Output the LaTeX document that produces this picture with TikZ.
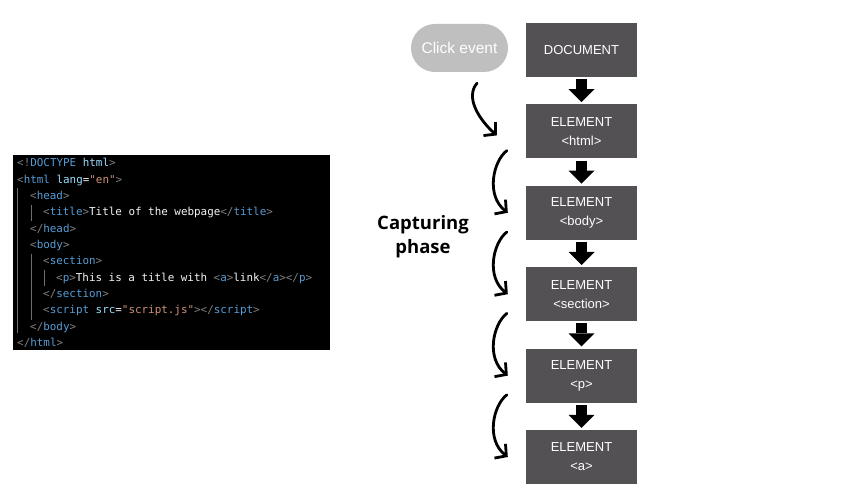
\documentclass[tikz,border=0pt]{standalone}
\usepackage{fontspec}
\setmainfont{Open Sans}
\newfontfamily\boxfont{Liberation Sans}
\newfontfamily\codefont{DejaVu Sans Mono}
\usetikzlibrary{positioning,calc,arrows.meta}
\definecolor{boxgray}{HTML}{545154}
\definecolor{pillgray}{HTML}{BFBFBF}
\definecolor{codebrk}{HTML}{808080}
\definecolor{codetag}{HTML}{569CD6}
\definecolor{codeattr}{HTML}{9CDCFE}
\definecolor{codestr}{HTML}{CE9178}
\definecolor{codetxt}{HTML}{F4F4F4}
\definecolor{codeguide}{HTML}{6E6E6E}
\tikzset{
  % --- DOM tree boxes ---
  domnode/.style={fill=boxgray, text=white, align=center, inner sep=2pt,
                  minimum width=111pt, minimum height=54pt,
                  font=\boxfont\fontsize{13}{19}\selectfont},
  eventpill/.style={fill=pillgray, text=white, rounded corners=24pt,
                    minimum width=97pt, minimum height=48pt,
                    font=\boxfont\fontsize{15.5}{18}\selectfont},
  % --- arrows ---
  downarrow/.style={draw=black, line width=11pt,
                    -{Triangle[width=26pt,length=13pt,line width=0pt]},
                    shorten <=2pt, shorten >=2pt},
  capture/.style={draw=black, line width=2.8pt, line cap=round,
                  -{Straight Barb[length=8pt,width=18pt,line width=2.8pt]}},
  % --- code listing ---
  codeline/.style={anchor=base west, inner sep=0pt, text=codetxt,
                   font=\codefont\fontsize{10.9}{13}\selectfont},
  guide/.style={draw=codeguide, line width=0.8pt},
}
\newcommand{\htag}[1]{\textcolor{codebrk}{<}\textcolor{codetag}{#1}}
\newcommand{\hend}{\textcolor{codebrk}{>}}
\newcommand{\hclose}[1]{\textcolor{codebrk}{</}\textcolor{codetag}{#1}\textcolor{codebrk}{>}}
\newcommand{\hattr}[2]{\textcolor{codeattr}{#1}=\textcolor{codestr}{#2}}

\begin{document}
\begin{tikzpicture}[x=1pt, y=-1pt]
  \useasboundingbox (0,0) rectangle (845,502);

  % --- code panel ---
  \node[fill=black, minimum width=317pt, minimum height=195pt, inner sep=0pt]
        (codepanel) at (171.5,252.5) {};
  \draw[guide] (17,188) -- (17,333);
  \draw[guide] (31,205) -- (31,221);
  \draw[guide] (31,254) -- (31,320);
  \draw[guide] (44,270) -- (44,286);

  \node[codeline] (cl1)  at (17,167)   {\textcolor{codebrk}{<!}\textcolor{codetag}{DOCTYPE} \textcolor{codeattr}{html}\hend};
  \node[codeline] (cl2)  at (17,183.3) {\htag{html} \hattr{lang}{"en"}\hend};
  \node[codeline] (cl3)  at (30,199.6) {\htag{head}\hend};
  \node[codeline] (cl4)  at (43,215.9) {\htag{title}\hend Title of the webpage\hclose{title}};
  \node[codeline] (cl5)  at (30,232.2) {\hclose{head}};
  \node[codeline] (cl6)  at (30,248.5) {\htag{body}\hend};
  \node[codeline] (cl7)  at (43,264.8) {\htag{section}\hend};
  \node[codeline] (cl8)  at (56,281.1) {\htag{p}\hend This is a title with \htag{a}\hend link\hclose{a}\hclose{p}};
  \node[codeline] (cl9)  at (43,297.4) {\hclose{section}};
  \node[codeline] (cl10) at (43,313.7) {\htag{script} \hattr{src}{"script.js"}\hend\hclose{script}};
  \node[codeline] (cl11) at (30,330)   {\hclose{body}};
  \node[codeline] (cl12) at (17,346.3) {\hclose{html}};

  % --- DOM chain ---
  \node[domnode] (docnode) at (581.5,50) {DOCUMENT};
  \node[domnode, below=27pt of docnode]     (htmlnode)    {ELEMENT\\<html>};
  \node[domnode, below=27pt of htmlnode]    (bodynode)    {ELEMENT\\<body>};
  \node[domnode, below=27pt of bodynode]    (sectionnode) {ELEMENT\\<section>};
  \node[domnode, below=27pt of sectionnode] (pnode)       {ELEMENT\\<p>};
  \node[domnode, below=27pt of pnode]       (anode)       {ELEMENT\\<a>};

  \draw[downarrow] (docnode) -- (htmlnode);
  \draw[downarrow] (htmlnode) -- (bodynode);
  \draw[downarrow] (bodynode) -- (sectionnode);
  \draw[downarrow] (sectionnode) -- (pnode);
  \draw[downarrow] (pnode) -- (anode);

  % --- event and capturing arrows ---
  \node[eventpill] (clicknode) at (459.5,48) {Click event};
  \node[align=center, font=\bfseries\fontsize{18.5}{24}\selectfont]
        (capnode) at (423,237) {Capturing\\phase};

  \draw[capture] ($(clicknode.south)+(17.5,11)$)
        .. controls +(-12,14) and +(-18,-16) .. ($(htmlnode.west)+(-29,4)$);
  \draw[capture] ($(htmlnode.south west)+(-19,-8)$)
        .. controls +(-14,11) and +(-22,-17) .. ($(bodynode.west)+(-18,0)$);
  \draw[capture] ($(bodynode.south west)+(-19,-8)$)
        .. controls +(-14,11) and +(-22,-17) .. ($(sectionnode.west)+(-18,0)$);
  \draw[capture] ($(sectionnode.south west)+(-19,-8)$)
        .. controls +(-14,11) and +(-22,-17) .. ($(pnode.west)+(-18,0)$);
  \draw[capture] ($(pnode.south west)+(-19,-8)$)
        .. controls +(-14,11) and +(-22,-17) .. ($(anode.west)+(-18,0)$);
\end{tikzpicture}
\end{document}
